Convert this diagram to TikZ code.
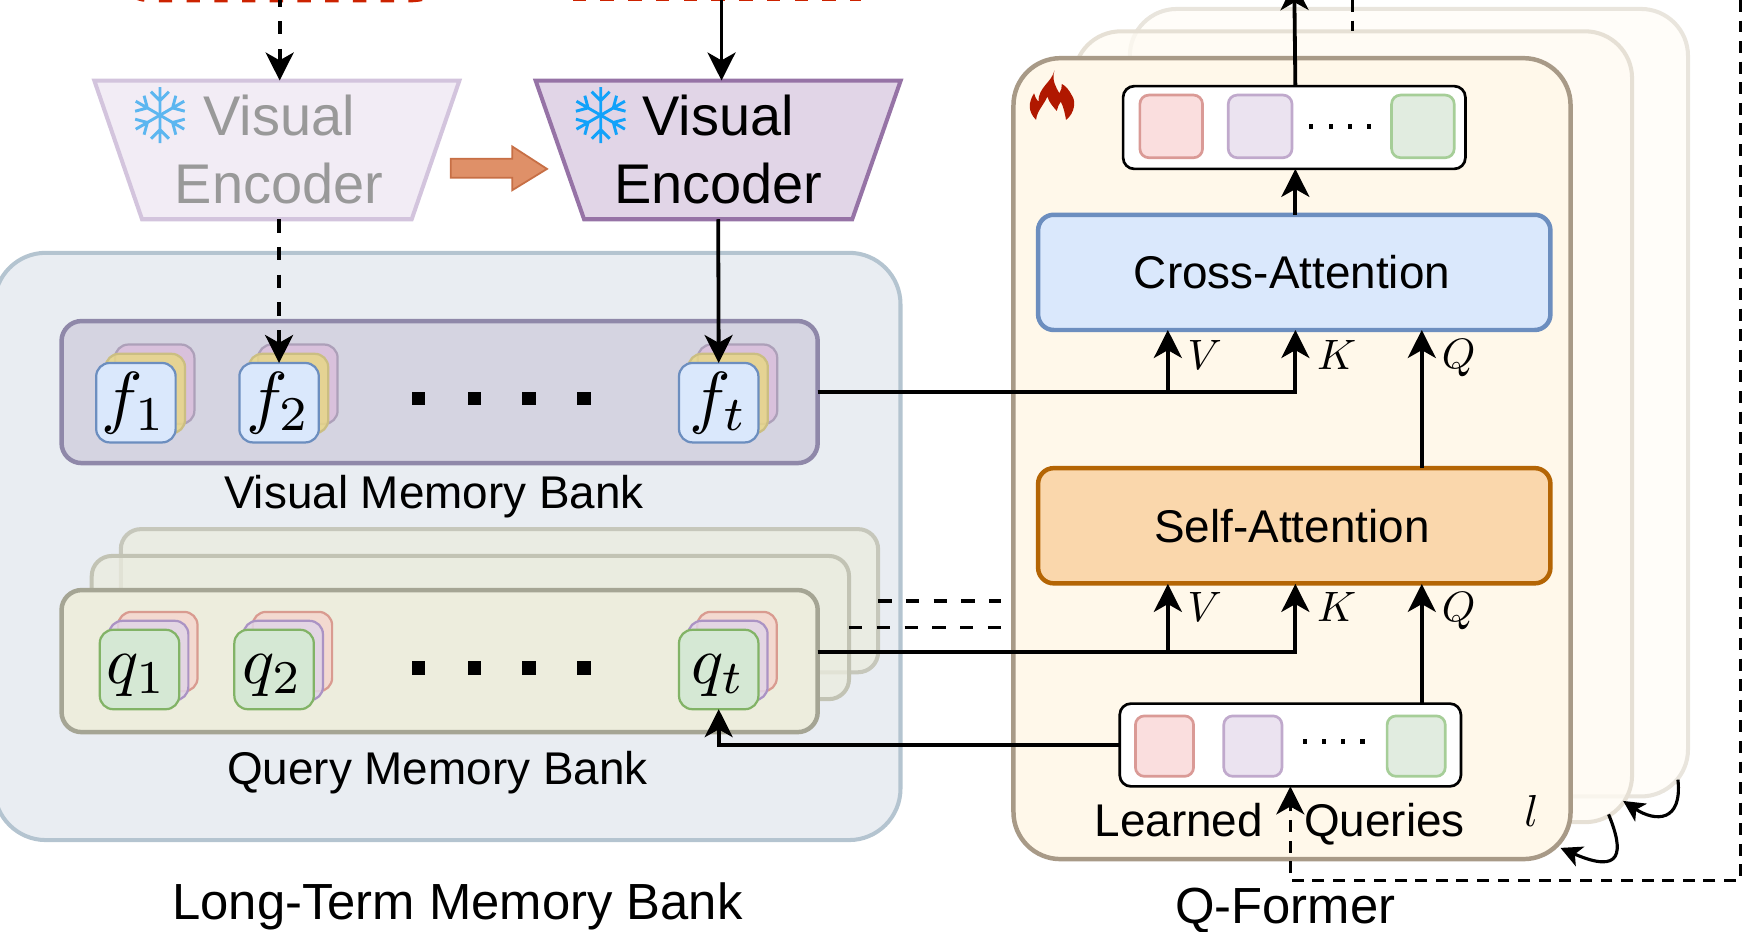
\documentclass[tikz,border=0pt]{standalone}
\usepackage{fontspec}
\setmainfont{Liberation Sans}
\usetikzlibrary{arrows.meta,shapes.geometric}
\definecolor{longfill}{HTML}{E9EDF2}
\definecolor{longline}{HTML}{B4C4D0}
\definecolor{visfill}{HTML}{D5D4E1}
\definecolor{visline}{HTML}{8F88A9}
\definecolor{qryfill}{HTML}{EDEDDD}
\definecolor{qryline}{HTML}{A5A594}
\definecolor{qryfilltwo}{HTML}{EBECDF}
\definecolor{qrylinetwo}{HTML}{C2C3B4}
\definecolor{qryfillthree}{HTML}{EAECE3}
\definecolor{qrylinethree}{HTML}{C6C7BB}
\definecolor{encfill}{HTML}{E1D5E7}
\definecolor{encline}{HTML}{9673A6}
\definecolor{ghostfill}{HTML}{F2ECF5}
\definecolor{ghostline}{HTML}{D3C4DD}
\definecolor{ghosttext}{HTML}{999999}
\definecolor{flakemain}{HTML}{12A2FA}
\definecolor{flakeghost}{HTML}{5CB6F0}
\definecolor{shiftfill}{HTML}{DF9068}
\definecolor{shiftline}{HTML}{C76F45}
\definecolor{formfill}{HTML}{FFF8EA}
\definecolor{formline}{HTML}{A89A87}
\definecolor{formfilltwo}{HTML}{FFFBF3}
\definecolor{formlinetwo}{HTML}{E6E0D5}
\definecolor{formfillthree}{HTML}{FFFDF9}
\definecolor{formlinethree}{HTML}{E9E5DD}
\definecolor{crossfill}{HTML}{DAE8FC}
\definecolor{crossline}{HTML}{6C8EBF}
\definecolor{selffill}{HTML}{FAD7AC}
\definecolor{selfline}{HTML}{B46504}
\definecolor{flamered}{HTML}{B01800}
\definecolor{dashred}{HTML}{CC2200}
\definecolor{yelfill}{HTML}{E8D787}
\definecolor{yelline}{HTML}{CBBE82}
\definecolor{plumfill}{HTML}{D9C1DC}
\definecolor{plumline}{HTML}{ADA0B9}
\definecolor{grnfill}{HTML}{D5E8D4}
\definecolor{grnline}{HTML}{82B366}
\definecolor{lilfill}{HTML}{E1D5E7}
\definecolor{lilline}{HTML}{AB93C4}
\definecolor{rosefill}{HTML}{F3D9D0}
\definecolor{roseline}{HTML}{D99B90}
\definecolor{slotred}{HTML}{FADEDE}
\definecolor{slotredline}{HTML}{DA9A96}
\definecolor{slotlil}{HTML}{EBE3F0}
\definecolor{slotlilline}{HTML}{C0A9CC}
\definecolor{slotgrn}{HTML}{E1ECE0}
\definecolor{slotgrnline}{HTML}{A6CE98}

\begin{document}
\begin{tikzpicture}[x=.5pt,y=-.5pt,
 every node/.style={inner sep=0pt,outer sep=0pt},
 smalltext/.style={font=\fontsize{20.5}{24}\selectfont},
 bigtext/.style={font=\fontsize{22.7}{26}\selectfont},
 enc/.style={trapezium,shape border rotate=180,trapezium stretches=true,
  trapezium left angle=71,trapezium right angle=71,minimum width=163.5pt,
  minimum height=62pt,line width=1.8pt,align=center,
  font=\fontsize{25}{31}\selectfont},
 bank/.style={rectangle,rounded corners=9pt,minimum width=338pt,
  minimum height=63.5pt,line width=2pt},
 layer/.style={rounded corners=9pt,line width=1.8pt},
 panel/.style={rounded corners=21pt,line width=1.8pt},
 attn/.style={rectangle,rounded corners=7pt,minimum width=229pt,
  minimum height=51.5pt,line width=2pt,smalltext},
 card/.style={rectangle,rounded corners=6pt,minimum width=35.5pt,
  minimum height=35.5pt,line width=1pt},
 slotbox/.style={rectangle,draw=black,fill=white,rounded corners=5pt,
  line width=1.2pt,minimum height=37pt},
 slot/.style={rounded corners=4pt,line width=1.2pt},
 flow/.style={line width=1.7pt},
 tipped/.style={-{Stealth[length=12.5pt,width=12.5pt,inset=3.5pt]}},
 dashflow/.style={flow,dash pattern=on 6pt off 6.4pt},
 backdash/.style={line width=1.5pt,dash pattern=on 5.3pt off 3.9pt},
 reddash/.style={dashred,line width=2.5pt,dash pattern=on 6pt off 6.4pt},
 loop/.style={line width=1.4pt,-{Stealth[length=9.5pt,width=9.5pt,inset=2.5pt]}},
 letter/.style={font=\normalsize}]
 \clip (0,0) rectangle (1568,833);

 % top of the cut off sources
 \draw[reddash] (118,-5) .. controls (124,-1) and (130,-.3) .. (140,-.3) -- (362,-.3)
  .. controls (372,-.3) and (380,-1) .. (385,-5);
 \draw[reddash] (512,-1.8) -- (770,-1.8);

 % long-term memory bank
 \draw[panel,rounded corners=23pt,fill=longfill,draw=longline]
  (-5,226) rectangle (805,751);
 \node[bank,draw=visline,fill=visfill] (visbank) at (393,350.5) {};
 \draw[layer,draw=qrylinethree,fill=qryfillthree] (108,473) rectangle (785,601);
 \draw[layer,draw=qrylinetwo,fill=qryfilltwo,fill opacity=.75] (82,497) rectangle (759,625);
 \node[bank,draw=qryline,fill=qryfill] (qrybank) at (393,591) {};
 \node[smalltext] (vislabel) at (388,444) {Visual Memory Bank};
 \node[smalltext] (qrylabel) at (391,691) {Query Memory Bank};
 \node[bigtext] (longlabel) at (409,810) {Long-Term Memory Bank};

 % feature and query cards
 \foreach \nm/\cx/\tx/\sub in {f1/121.5/119.5/1,f2/249.5/249/2,ft/642.5/642.5/t}{
  \node[card,draw=plumline,fill=plumfill] (\nm back) at (\cx+16.8,343.5) {};
  \node[card,draw=yelline,fill=yelfill,fill opacity=.85] (\nm mid) at (\cx+8.4,351.8) {};
  \node[card,draw=crossline,fill=crossfill] (\nm) at (\cx,360) {};
  \node (\nm text) at (\tx,360) {\scalebox{3.1}{$f_{\sub}$}};}
 \foreach \nm/\cx/\tx/\sub in {q1/124.7/122/1,q2/245/243.5/2,qt/642.5/642/t}{
  \node[card,draw=roseline,fill=rosefill] (\nm back) at (\cx+16.4,582.5) {};
  \node[card,draw=lilline,fill=lilfill,fill opacity=.85] (\nm mid) at (\cx+8.2,590.5) {};
  \node[card,draw=grnline,fill=grnfill] (\nm) at (\cx,598.5) {};
  \node (\nm text) at (\tx,604) {\scalebox{3}{$q_{\sub}$}};}
 \foreach \x in {374,424,473,522}{
  \fill (\x-6,350) rectangle (\x+6,362);
  \fill (\x-6,591) rectangle (\x+6,603);}

 % encoders
 \node[enc,draw=ghostline,fill=ghostfill,text=ghosttext] (ghostenc)
  at (247.5,134) {\hspace*{2pt}\raisebox{-2pt}{Visual}\\\hspace*{2pt}\raisebox{-1.5pt}{Encoder}};
 \node[enc,draw=encline,fill=encfill] (mainenc)
  at (642,134) {\raisebox{-2pt}{Visual}\\\raisebox{-1.5pt}{Encoder}};
 \foreach \cx/\col in {143/flakeghost,537/flakemain}{
  \foreach \a in {30,90,150,210,270,330}{
   \begin{scope}[shift={(\cx,103)},rotate=\a]
    \draw[\col,line width=1.3pt] (0,0)--(25,0) (13,0)--(21,-8) (13,0)--(21,8);
   \end{scope}}}
 \draw[shiftline,fill=shiftfill,line width=.8pt]
  (403,142)--(458,142)--(458,131)--(489,151)--(458,170)--(458,159)--(403,159)--cycle;

 % q-former layers
 \draw[panel,draw=formlinethree,fill=formfillthree] (1010,8) rectangle (1509,712);
 \draw[panel,draw=formlinetwo,fill=formfilltwo,fill opacity=.75] (960,28) rectangle (1459,735);
 \draw[panel,draw=formline,fill=formfill,line width=2pt] (906,52) rectangle (1404,768);
 \fill[flamered] (942.6,63) .. controls (940,74) and (928,78) .. (928.3,91)
  .. controls (926,88) and (925,86) .. (924.4,83.4)
  .. controls (919,92) and (919,100) .. (926.2,107.2)
  .. controls (927,99) and (933,94) .. (936.3,86.4)
  .. controls (938,92) and (942,96) .. (944.7,99.2)
  .. controls (945,96) and (947,93) .. (948.3,90.9)
  .. controls (951,96) and (952,102) .. (953,107.2)
  .. controls (961,101) and (962,90) .. (958,85)
  .. controls (956,81) and (953,77) .. (949.2,75)
  .. controls (949.5,78) and (948.5,81) .. (947,83.4)
  .. controls (944,78) and (940,72) .. (942.6,63) -- cycle;
 \node[attn,draw=crossline,fill=crossfill] (cross) at (1157,243.5)
  {\hspace*{-2pt}Cross-Attention};
 \node[attn,draw=selfline,fill=selffill] (selfatt) at (1157,470)
  {\hspace*{-2pt}Self-Attention};

 % slot boxes
 \node[slotbox,minimum width=153pt] (outbox) at (1157,114) {};
 \node[slotbox,minimum width=152.5pt] (learned) at (1153.5,666) {};
 \draw[slot,draw=slotredline,fill=slotred] (1019,85) rectangle (1075,141);
 \draw[slot,draw=slotlilline,fill=slotlil] (1098,85) rectangle (1155,141);
 \draw[slot,draw=slotgrnline,fill=slotgrn] (1244,85) rectangle (1300,141);
 \draw[slot,draw=slotredline,fill=slotred] (1015,640) rectangle (1067,694);
 \draw[slot,draw=slotlilline,fill=slotlil] (1094,640) rectangle (1146,694);
 \draw[slot,draw=slotgrnline,fill=slotgrn] (1240,640) rectangle (1292,694);
 \foreach \x in {1172,1190,1207,1224}{\fill (\x-1.8,111) rectangle (\x+1.8,115);}
 \foreach \x in {1167,1184,1201,1218}{\fill (\x-1.8,661) rectangle (\x+1.8,665);}
 \node[smalltext] (learnedlabel) at (1144,737) {Learned\hspace{18.5pt}Queries};
 \node[letter] (layerl) at (1369,725) {\scalebox{2}{$l$}};
 \node[bigtext] (formlabel) at (1149,814) {Q-Former};
 \foreach \nm/\lab/\x/\y in {va/V/1077/317,ka/K/1195/317,qa/Q/1304/320,
                           vb/V/1077/543,kb/K/1195/543,qb/Q/1304/546}{
  \node[letter] (\nm) at (\x,\y) {\scalebox{1.9}{$\lab$}};}

 % connectors
 \coordinate (ghosttop) at (250,-6);
 \coordinate (maintop) at (645,-6);
 \coordinate (crossV) at (1044,295);
 \coordinate (crossK) at (1158,295);
 \coordinate (crossQ) at (1271,295);
 \coordinate (selfV) at (1044,522);
 \coordinate (selfK) at (1158,522);
 \coordinate (selfQ) at (1271,522);
 \coordinate (qryout) at (731,583);
 \coordinate (lastout) at (1157,-16);
 \coordinate (outstub) at (1209,0);
 \coordinate (rightdash) at (1556,0);
 \coordinate (dashcorner) at (1556,787);
 \draw[dashflow,tipped] (ghosttop) -- (ghosttop |- ghostenc.north);
 \draw[flow,tipped] (maintop) -- (maintop |- mainenc.north);
 \draw[dashflow,tipped] (f2.north |- ghostenc.south) -- (f2.north);
 \draw[flow,tipped] (mainenc.south) -- (ft.north);
 \draw[flow,tipped] (visbank.east) -| (crossV);
 \draw[flow,tipped] (visbank.east) -| (crossK);
 \draw[flow,tipped] (qryout) -| (selfV);
 \draw[flow,tipped] (qryout) -| (selfK);
 \draw[flow,tipped] (selfQ |- selfatt.north) -- (crossQ);
 \draw[flow,tipped] (selfQ |- learned.north) -- (selfQ);
 \draw[flow,tipped] (crossK |- cross.north) -- (crossK |- outbox.south);
 \draw[flow,tipped] (crossK |- outbox.north) -- (lastout);
 \draw[flow,tipped] (learned.west) -| (qt.south);
 \draw[dashflow] (785,537) -- (895,537);
 \draw[dashflow] (759,561) -- (895,561);
 \draw[backdash] (outstub) -- (1209,28);
 \draw[backdash,tipped] (rightdash) -- (dashcorner) -| (learned.south);
 \draw[loop] (1500,697) .. controls (1504,735) and (1480,735) .. (1451,716);
 \draw[loop] (1438,728) .. controls (1452,762) and (1450,782) .. (1395,758);
\end{tikzpicture}
\end{document}
